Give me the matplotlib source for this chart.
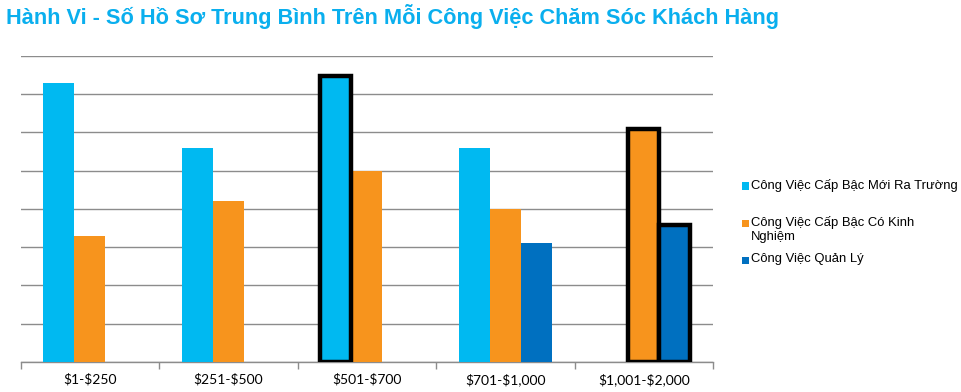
import numpy as np
import matplotlib
matplotlib.use("Agg")
import matplotlib.pyplot as plt
from matplotlib.patches import Rectangle

plt.rcParams["text.parse_math"] = False

title = "Hành Vi - Số Hồ Sơ Trung Bình Trên Mỗi Công Việc Chăm Sóc Khách Hàng"
categories = ["$1-$250", "$251-$500", "$501-$700", "$701-$1,000", "$1,001-$2,000"]
series_names = ["Công Việc Cấp Bậc Mới Ra Trường",
                "Công Việc Cấp Bậc Có Kinh\nNghiệm",
                "Công Việc Quản Lý"]
# values read in grid units (no y labels in the original)
fresh = [7.28, 5.59, 7.48, 5.59, np.nan]
experienced = [3.29, 4.2, 5.0, 4.0, 6.08]
manager = [np.nan, np.nan, np.nan, 3.11, 3.58]
# (series index, category index) of bars drawn with a heavy black outline
highlight = [(0, 2), (1, 4), (2, 4)]

colors = ["#00B9F1", "#F7941D", "#0070C0"]

fig = plt.figure(figsize=(9.62, 3.92), dpi=100)
ax = fig.add_axes([0.0215, 0.0765, 0.7197, 0.7815])

x = np.arange(len(categories))
w = 0.2245
all_series = [fresh, experienced, manager]
for i, vals in enumerate(all_series):
    bars = ax.bar(x + (i - 1) * w, vals, w, color=colors[i], zorder=3, linewidth=0)
    for (si, ci) in highlight:
        if si == i:
            bars[ci].set_edgecolor("black")
            bars[ci].set_linewidth(3.2)
            bars[ci].set_zorder(4)

ax.set_xlim(-0.5, len(categories) - 0.5)
ax.set_ylim(0, 8)
ax.set_yticks(np.arange(0, 9))
ax.yaxis.grid(True, color="#8C8C8C", linewidth=1.0, zorder=0)
ax.tick_params(axis="y", left=False, labelleft=False)
ax.set_xticks(np.arange(-0.5, len(categories)), minor=False)
ax.set_xticklabels([])
ax.set_xticks(x, minor=True)
ax.set_xticklabels(categories, minor=True, fontsize=10, family=["Lato", "DejaVu Sans"])
ax.tick_params(axis="x", which="major", length=5, color="#8C8C8C", width=1)
ax.tick_params(axis="x", which="minor", length=0, pad=8)
for s in ["top", "right", "left"]:
    ax.spines[s].set_visible(False)
ax.spines["bottom"].set_color("#8C8C8C")
ax.spines["bottom"].set_linewidth(1.0)

fig.text(0.006, 0.957, title, fontsize=15.7, fontweight="bold", color="#0AAFEE",
         family=["Liberation Sans", "DejaVu Sans"], va="center", ha="left")

# legend, marker aligned with first line of each entry
leg_y = [186, 223, 260]
for i, name in enumerate(series_names):
    yf = 1 - leg_y[i] / 392
    fig.patches.append(Rectangle((742 / 962, yf - 3.5 / 392), 7 / 962, 7 / 392,
                                 transform=fig.transFigure, facecolor=colors[i],
                                 edgecolor="none"))
    fig.text(751 / 962, yf + 6.8 / 392, name, fontsize=9.4,
             family=["Liberation Sans", "DejaVu Sans"],
             va="top", ha="left", linespacing=1.25)

fig.savefig("out.png", dpi=100)
